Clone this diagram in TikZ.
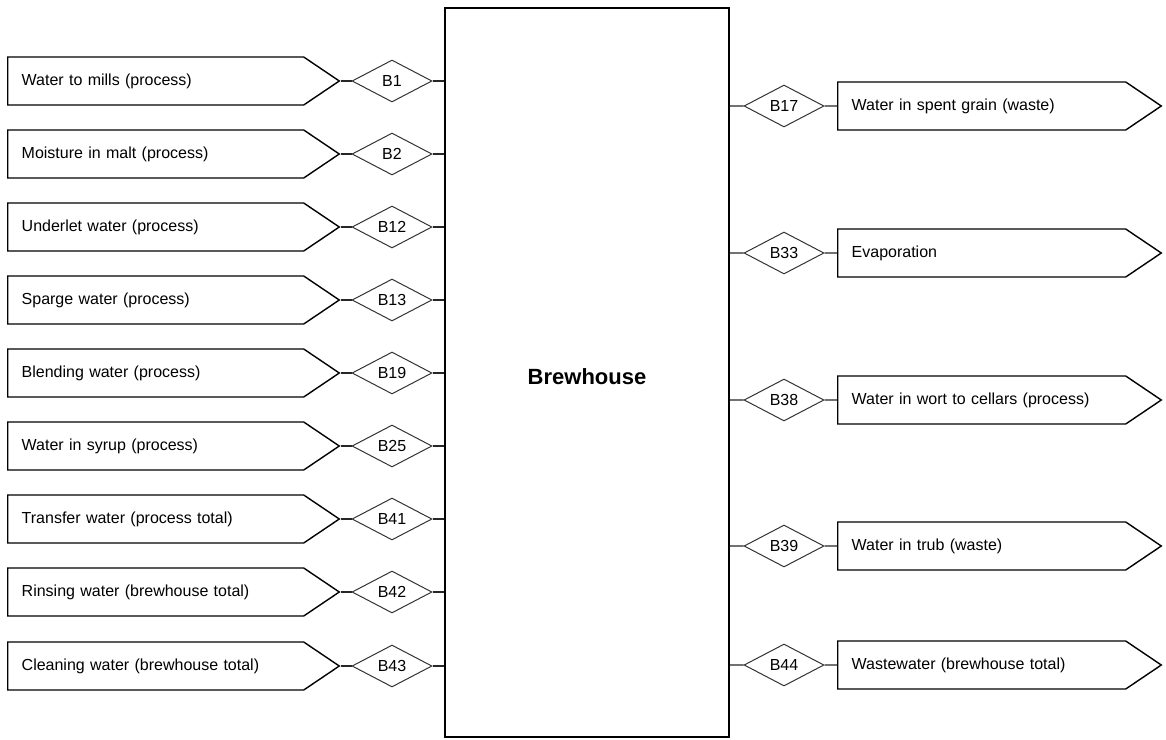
\documentclass[tikz,border=0pt]{standalone}
\usepackage{fontspec}
\setmainfont{Liberation Sans}
\usetikzlibrary{shapes.geometric,shapes.symbols}

\begin{document}
\begin{tikzpicture}[x=1pt, y=-1pt]
                        % flw = flow box (in/out), mtr = meter diamond
                        \useasboundingbox (0,0) rectangle (1166,739);
                        \tikzstyle{every node}=[font=\fontsize{16}{19}\selectfont]
                        \tikzstyle{flw}=[signal, signal to=east, signal from=nothing, signal pointer angle=68, draw=black, line width=1.4pt, minimum height=48pt, inner xsep=14pt, align=left, anchor=west]
                        \tikzstyle{flwin}=[flw, text width=268pt]
                        \tikzstyle{flwout}=[flw, text width=260pt]
                        \tikzstyle{mtr}=[diamond, draw=black!80, line width=1pt, minimum width=80pt, minimum height=42pt, inner sep=0pt]
                        \tikzstyle{lnk}=[draw=black!85, line width=1.1pt]

                        \node[draw, line width=1.5pt, minimum width=284pt, minimum height=729pt, text height=28pt, text depth=4pt, font=\fontsize{22}{26}\selectfont\bfseries] (brew) at (587,372.5) {Brewhouse};

                        % inflows
                        \node[flwin] (W1) at (7,81) {Water to mills (process)};
                        \node[mtr] (B1) at (392,81) {B1};
                        \draw[lnk] (W1) -- (B1) -- (brew.west |- B1);
                        \node[flwin] (W2) at (7,154) {Moisture in malt (process)};
                        \node[mtr] (B2) at (392,154) {B2};
                        \draw[lnk] (W2) -- (B2) -- (brew.west |- B2);
                        \node[flwin] (W12) at (7,227) {Underlet water (process)};
                        \node[mtr] (B12) at (392,227) {B12};
                        \draw[lnk] (W12) -- (B12) -- (brew.west |- B12);
                        \node[flwin] (W13) at (7,300) {Sparge water (process)};
                        \node[mtr] (B13) at (392,300) {B13};
                        \draw[lnk] (W13) -- (B13) -- (brew.west |- B13);
                        \node[flwin] (W19) at (7,373) {Blending water (process)};
                        \node[mtr] (B19) at (392,373) {B19};
                        \draw[lnk] (W19) -- (B19) -- (brew.west |- B19);
                        \node[flwin] (W25) at (7,446) {Water in syrup (process)};
                        \node[mtr] (B25) at (392,446) {B25};
                        \draw[lnk] (W25) -- (B25) -- (brew.west |- B25);
                        \node[flwin] (W41) at (7,519) {Transfer water (process total)};
                        \node[mtr] (B41) at (392,519) {B41};
                        \draw[lnk] (W41) -- (B41) -- (brew.west |- B41);
                        \node[flwin] (W42) at (7,592) {Rinsing water (brewhouse total)};
                        \node[mtr] (B42) at (392,592) {B42};
                        \draw[lnk] (W42) -- (B42) -- (brew.west |- B42);
                        \node[flwin] (W43) at (7,666) {Cleaning water (brewhouse total)};
                        \node[mtr] (B43) at (392,666) {B43};
                        \draw[lnk] (W43) -- (B43) -- (brew.west |- B43);

                        % outflows
                        \node[mtr] (B17) at (784,106) {B17};
                        \node[flwout] (O17) at (837,106) {Water in spent grain (waste)};
                        \draw[lnk] (brew.east |- B17) -- (B17) -- (O17);
                        \node[mtr] (B33) at (784,253) {B33};
                        \node[flwout] (O33) at (837,253) {Evaporation};
                        \draw[lnk] (brew.east |- B33) -- (B33) -- (O33);
                        \node[mtr] (B38) at (784,400) {B38};
                        \node[flwout] (O38) at (837,400) {Water in wort to cellars (process)};
                        \draw[lnk] (brew.east |- B38) -- (B38) -- (O38);
                        \node[mtr] (B39) at (784,546) {B39};
                        \node[flwout] (O39) at (837,546) {Water in trub (waste)};
                        \draw[lnk] (brew.east |- B39) -- (B39) -- (O39);
                        \node[mtr] (B44) at (784,665) {B44};
                        \node[flwout] (O44) at (837,665) {Wastewater (brewhouse total)};
                        \draw[lnk] (brew.east |- B44) -- (B44) -- (O44);
                \end{tikzpicture}
\end{document}
